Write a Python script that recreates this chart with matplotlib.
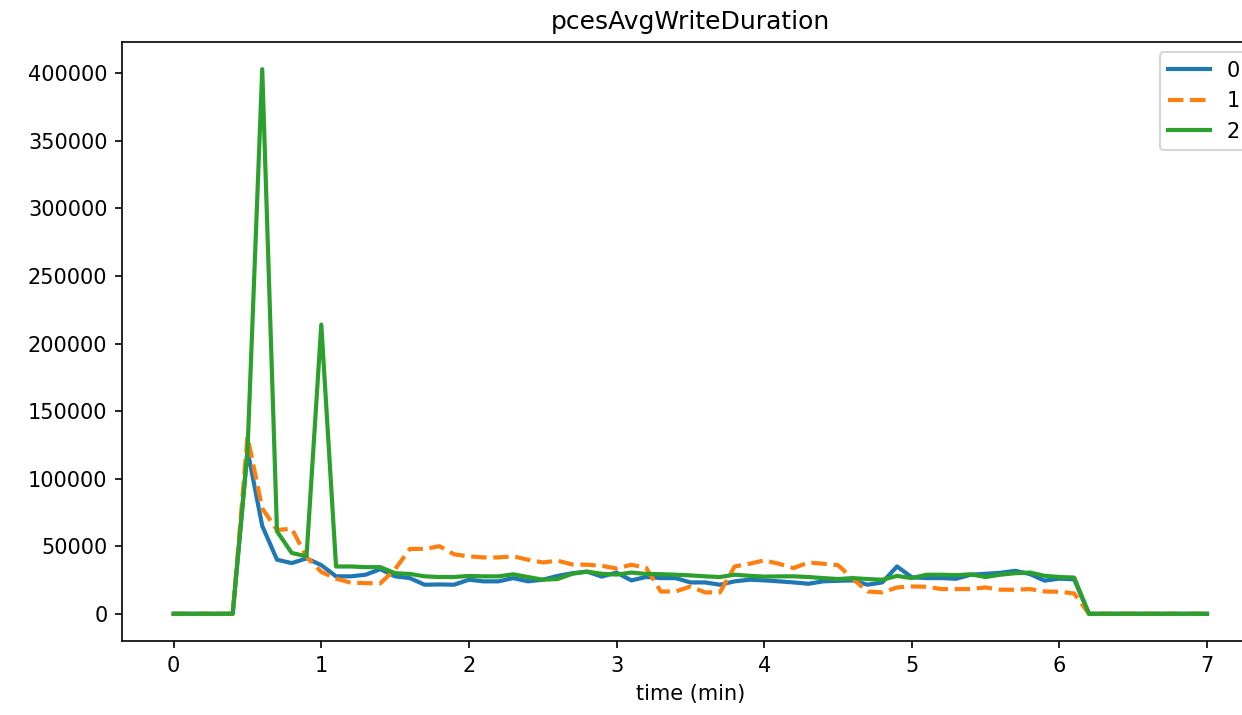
import numpy as np
import matplotlib
matplotlib.use("Agg")
import matplotlib.pyplot as plt

# time axis (minutes), sampled every 0.1 min
time_min = [round(0.1 * i, 1) for i in range(71)]

series_0 = [
    0, 0, 0, 0, 0, 121000, 65000, 40000, 37500, 41000,
    36000, 27700, 27700, 28900, 33000, 27700, 26400, 21500, 21700, 21500,
    25200, 24000, 24000, 26400, 24000, 25200, 28000, 30000, 31200, 27500,
    30500, 24700, 27200, 26400, 26400, 23200, 23200, 21500, 24000, 25200,
    24700, 24000, 23200, 22200, 24000, 24400, 24700, 21500, 23200, 35000,
    27000, 26400, 26400, 25900, 28900, 29600, 30300, 31800, 29400, 24500,
    26000, 25500, 0, 0, 0, 0, 0, 0, 0, 0, 0,
]
series_1 = [
    0, 0, 0, 0, 0, 131000, 78000, 62000, 63000, 42000,
    31000, 26000, 23000, 22700, 22500, 33000, 48000, 48000, 50000, 44000,
    42500, 41700, 41700, 42500, 40000, 38000, 39300, 36500, 36300, 35500,
    33500, 36300, 34000, 16500, 16500, 20200, 15800, 15800, 35000, 37000,
    39500, 37000, 33800, 38000, 37000, 36000, 26000, 16500, 15800, 19500,
    20200, 20000, 18300, 18300, 18300, 19500, 17800, 17800, 18300, 16500,
    16300, 15000, 0, 0, 0, 0, 0, 0, 0, 0, 0,
]
series_2 = [
    0, 0, 0, 0, 0, 120000, 403000, 61000, 45000, 42500,
    214000, 35000, 35000, 34500, 34500, 30000, 29500, 27700, 27200, 27200,
    28000, 27700, 27700, 29200, 27200, 25200, 25700, 29600, 31200, 29600,
    29000, 30500, 29500, 29300, 28900, 28400, 27700, 27200, 28900, 28100,
    27500, 27700, 27700, 27200, 26400, 25700, 26400, 25700, 25200, 28000,
    26400, 28900, 28900, 28600, 29200, 27200, 28900, 30000, 30500, 28100,
    27200, 26800, 0, 0, 0, 0, 0, 0, 0, 0, 0,
]
labels = ["0", "1", "2"]

fig = plt.figure(figsize=(8.28, 715 / 150), dpi=150)
ax = fig.add_axes([122 / 1242, 74 / 715, (1258.7 - 122) / 1242, (641 - 42) / 715])

ax.plot(time_min, series_0, color="#1f77b4", linestyle="-", linewidth=2, label=labels[0])
ax.plot(time_min, series_1, color="#ff7f0e", linestyle="--", linewidth=2, label=labels[1])
ax.plot(time_min, series_2, color="#2ca02c", linestyle="-", linewidth=2, label=labels[2])

ax.set_title("pcesAvgWriteDuration")
ax.set_xlabel("time (min)")
ax.legend(loc="upper right")

fig.savefig("out.png", dpi=150)
